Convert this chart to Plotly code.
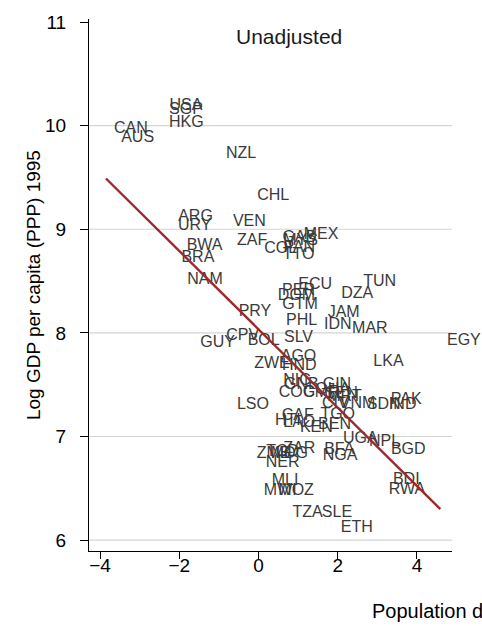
import plotly.graph_objects as go

# Country codes with population-density index (x) and log GDP per capita 1995 (y)
codes = ["USA", "SGP", "HKG", "CAN", "AUS", "NZL", "CHL", "ARG", "URY", "VEN",
         "ZAF", "BWA", "BRA", "NAM", "MEX", "MYS", "GAB", "COL", "PAN", "TTO",
         "ECU", "PER", "DOM", "GTM", "DZA", "TUN", "JAM", "PHL", "IDN", "MAR",
         "SLV", "PRY", "GUY", "CPV", "BOL", "EGY", "LKA", "AGO", "ZWE", "HND",
         "NIC", "GNB", "COG", "GIN", "GHA", "CMR", "SEN", "MRT", "CIV", "VNM",
         "TGO", "SDN", "IND", "PAK", "LSO", "CAF", "HTI", "LAO", "KEN", "BEN",
         "UGA", "NPL", "BGD", "ZMB", "TCD", "MDG", "ZAR", "NER", "BFA", "NGA",
         "MLI", "MWI", "MOZ", "BDI", "RWA", "TZA", "SLE", "ETH"]
pop_density = [-1.83, -1.83, -1.82, -3.22, -3.05, -0.44, 0.37, -1.59, -1.61, -0.23,
               -0.16, -1.36, -1.53, -1.35, 1.58, 1.06, 1.03, 0.56, 1.03, 1.01,
               1.43, 1.01, 0.96, 1.05, 2.49, 3.06, 2.15, 1.09, 2.00, 2.81,
               1.01, -0.09, -1.03, -0.40, 0.13, 5.19, 3.28, 1.01, 0.34, 1.03,
               0.97, 1.08, 0.97, 1.98, 1.87, 1.59, 2.09, 2.17, 1.94, 2.50,
               2.00, 3.16, 3.64, 3.73, -0.14, 0.99, 0.74, 1.03, 1.46, 1.92,
               2.57, 3.18, 3.78, 0.38, 0.61, 0.78, 1.03, 0.61, 2.04, 2.06,
               0.67, 0.55, 0.95, 3.73, 3.75, 1.24, 1.98, 2.48]
log_gdp = [10.19, 10.15, 10.03, 9.97, 9.88, 9.73, 9.32, 9.12, 9.03, 9.07,
           8.89, 8.84, 8.72, 8.51, 8.94, 8.89, 8.92, 8.81, 8.82, 8.75,
           8.46, 8.40, 8.36, 8.27, 8.38, 8.49, 8.19, 8.11, 8.08, 8.04,
           7.95, 8.20, 7.90, 7.97, 7.92, 7.94, 7.72, 7.77, 7.70, 7.68,
           7.54, 7.50, 7.42, 7.50, 7.45, 7.42, 7.41, 7.38, 7.31, 7.31,
           7.21, 7.30, 7.30, 7.35, 7.30, 7.20, 7.15, 7.13, 7.08, 7.11,
           6.98, 6.95, 6.87, 6.83, 6.85, 6.83, 6.88, 6.74, 6.87, 6.81,
           6.57, 6.47, 6.47, 6.58, 6.48, 6.26, 6.26, 6.12]

# Linear fit endpoints
fit_x = [-3.85, 4.59]
fit_y = [9.49, 6.30]

x_ticks = [-4, -2, 0, 2, 4]
y_ticks = [6, 7, 8, 9, 10, 11]
grid_y = [6, 7, 8, 9, 10]

X_RANGE = [-4.278, 4.884]
Y_RANGE = [5.895, 11.029]

FONT = "Liberation Sans, Arial, Helvetica, sans-serif"
LABEL_COLOR = "#3a3a3a"
LABEL_SIZE = 16
FIT_COLOR = "#9a2a2e"


def to_paper(v, rng):
    return (v - rng[0]) / (rng[1] - rng[0])


fig = go.Figure()

# Labels inside the axis window go in a text trace; any lying beyond the
# x-range are drawn as paper-referenced annotations so they stay visible.
inside = [X_RANGE[0] <= xv <= X_RANGE[1] for xv in pop_density]
fig.add_trace(go.Scatter(
    x=[v for v, ok in zip(pop_density, inside) if ok],
    y=[v for v, ok in zip(log_gdp, inside) if ok],
    text=[c for c, ok in zip(codes, inside) if ok],
    mode="text", textposition="middle center",
    textfont=dict(family=FONT, size=LABEL_SIZE, color=LABEL_COLOR),
    cliponaxis=False, hoverinfo="text", showlegend=False,
))

fig.add_trace(go.Scatter(
    x=fit_x, y=fit_y, mode="lines",
    line=dict(color=FIT_COLOR, width=2.4),
    showlegend=False, hoverinfo="skip",
))

for gy in grid_y:
    fig.add_shape(type="line", xref="paper", x0=0, x1=1, yref="y", y0=gy, y1=gy,
                  line=dict(color="#d4d4d4", width=1.2), layer="below")

annotations = [
    dict(text=c, x=to_paper(xv, X_RANGE), y=to_paper(yv, Y_RANGE),
         xref="paper", yref="paper", showarrow=False,
         xanchor="center", yanchor="middle",
         font=dict(family=FONT, size=LABEL_SIZE, color=LABEL_COLOR))
    for c, xv, yv, ok in zip(codes, pop_density, log_gdp, inside) if not ok
]
annotations += [
    dict(text="Unadjusted", xref="paper", yref="paper", x=0.551, y=0.967,
         xanchor="center", yanchor="middle", showarrow=False,
         font=dict(family=FONT, size=21, color="#1a1a1a")),
    dict(text="Log GDP per capita (PPP) 1995", xref="paper", yref="paper",
         x=-0.154, y=0.5, textangle=-90, xanchor="center", yanchor="middle",
         showarrow=False, font=dict(family=FONT, size=19, color="#000000")),
    dict(text="Population density in 1500", xref="paper", yref="paper",
         x=(370 - 89) / 363, y=-0.1134, xanchor="left", yanchor="middle",
         showarrow=False, font=dict(family=FONT, size=20, color="#000000")),
]

fig.update_layout(
    width=482, height=626,
    margin=dict(l=89, r=30, t=13, b=75),
    paper_bgcolor="white", plot_bgcolor="white",
    font=dict(family=FONT, color="#000000"),
    xaxis=dict(
        range=X_RANGE, tickvals=x_ticks, showgrid=False, zeroline=False,
        showline=True, linecolor="#000000", linewidth=1,
        ticks="outside", ticklen=7, tickcolor="#000000", tickwidth=1,
        tickfont=dict(family=FONT, size=19, color="#000000"),
        ticklabelstandoff=-10,
    ),
    yaxis=dict(
        range=Y_RANGE, tickvals=y_ticks, showgrid=False, zeroline=False,
        showline=True, linecolor="#000000", linewidth=1,
        ticks="outside", ticklen=8, tickcolor="#000000", tickwidth=1,
        tickfont=dict(family=FONT, size=19, color="#000000"),
        ticklabelstandoff=10,
    ),
    annotations=annotations,
)

fig.write_html("out.html")
